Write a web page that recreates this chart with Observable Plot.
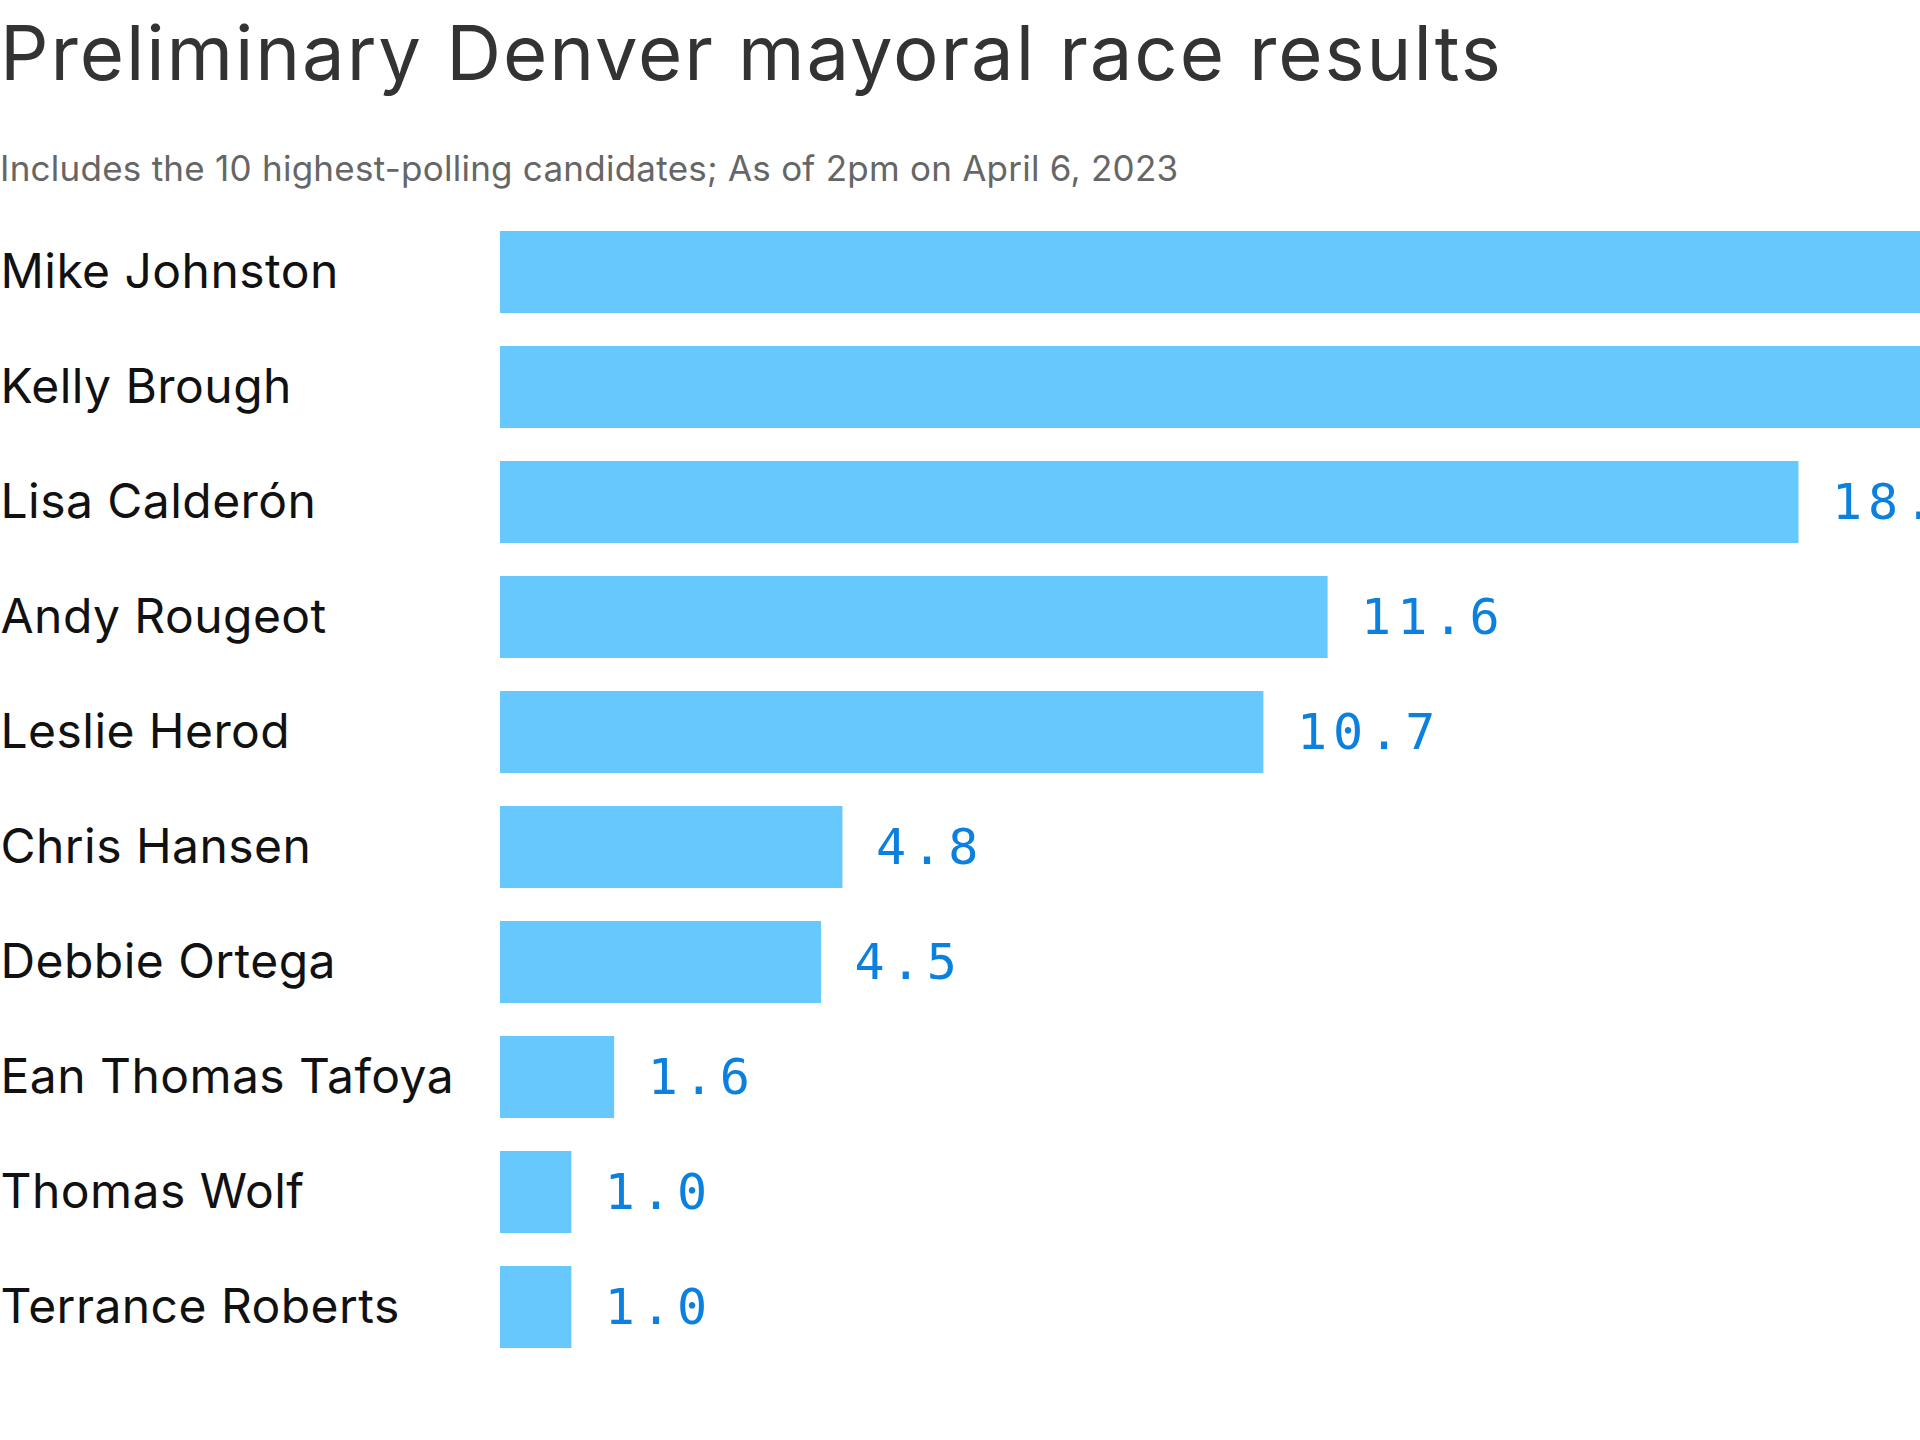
<!DOCTYPE html>
<html>
<head>
<meta charset="utf-8">
<script src="https://cdn.jsdelivr.net/npm/d3@7"></script>
<script src="https://cdn.jsdelivr.net/npm/@observablehq/plot@0.6"></script>
<style>
  html, body { margin: 0; padding: 0; background: #fff; overflow: hidden; width: 1920px; height: 1440px; }
  #header { position: relative; height: 180px; font-family: Inter, "Noto Sans", sans-serif; }
  #title { position: absolute; left: 0; top: 6px; font-size: 76px; line-height: 92px; color: #333; white-space: nowrap; letter-spacing: 1.9px; }
  #subtitle { position: absolute; left: 0; top: 148px; font-size: 35px; line-height: 41px; color: #666; white-space: nowrap; letter-spacing: 0.25px; }
  #chart svg { max-width: none !important; display: block; }
  #chart g[aria-label="text"] { letter-spacing: 6px; }
  #chart g[aria-label="y-axis tick label"] { letter-spacing: 0.45px; }
</style>
</head>
<body>
<div id="header">
  <div id="title">Preliminary Denver mayoral race results</div>
  <div id="subtitle">Includes the 10 highest-polling candidates; As of 2pm on April 6, 2023</div>
</div>
<div id="chart"></div>
<script>
// Candidates (top to bottom)
const candidates = [
  "Mike Johnston",
  "Kelly Brough",
  "Lisa Calderón",
  "Andy Rougeot",
  "Leslie Herod",
  "Chris Hansen",
  "Debbie Ortega",
  "Ean Thomas Tafoya",
  "Thomas Wolf",
  "Terrance Roberts"
];
// Vote share, percent (top two bars run past the visible edge; estimated)
const shares = [24.5, 20.1, 18.2, 11.6, 10.7, 4.8, 4.5, 1.6, 1.0, 1.0];

const data = candidates.map((name, i) => ({name, value: shares[i]}));

const xMax = 26;
const pxPerUnit = 71.35;
const marginLeft = 500;
const width = Math.round(marginLeft + xMax * pxPerUnit);

const chart = Plot.plot({
  width,
  height: 1260,
  marginLeft,
  marginRight: 0,
  marginTop: 18,
  marginBottom: 58,
  style: {maxWidth: "none", background: "white", overflow: "visible"},
  x: {domain: [0, xMax], axis: null},
  y: {domain: candidates, padding: 0.285, label: null},
  marks: [
    Plot.barX(data, {x: "value", y: "name", fill: "#67c8fe"}),
    Plot.text(data, {
      x: "value", y: "name",
      text: d => d.value.toFixed(1),
      textAnchor: "start", dx: 33,
      fill: "#0b80de",
      fontSize: 50,
      fontFamily: "DejaVu Sans Mono, Liberation Mono, monospace"
    }),
    Plot.axisY({
      tickSize: 0,
      tickPadding: 500,
      textAnchor: "start",
      fontSize: 48,
      fontFamily: "Inter, Noto Sans, sans-serif",
      fill: "#111",
      label: null
    })
  ]
});
document.getElementById("chart").appendChild(chart);
</script>
</body>
</html>
